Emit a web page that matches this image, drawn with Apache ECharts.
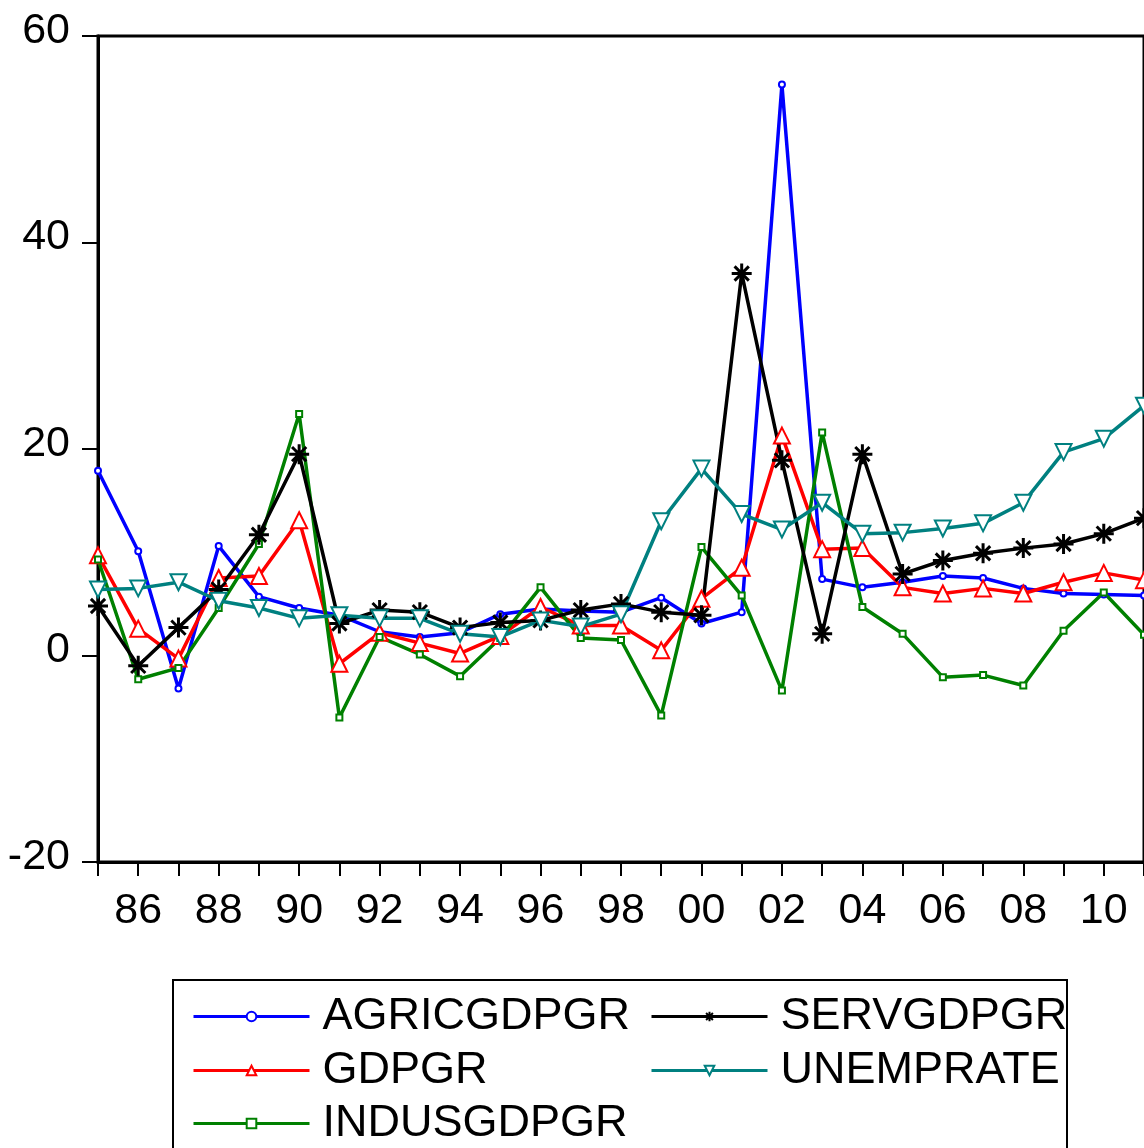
<!DOCTYPE html>
<html>
<head>
<meta charset="utf-8">
<script src="https://cdn.jsdelivr.net/npm/echarts@6/dist/echarts.min.js"></script>
<style>
  html, body { margin: 0; padding: 0; background: #fff; }
  #chart { width: 1144px; height: 1148px; }
</style>
</head>
<body>
<div id="chart"></div>
<script>
// years on the x axis, labelled with their last two digits
const years = ['1985', '1986', '1987', '1988', '1989', '1990', '1991', '1992', '1993', '1994',
  '1995', '1996', '1997', '1998', '1999', '2000', '2001', '2002', '2003', '2004',
  '2005', '2006', '2007', '2008', '2009', '2010', '2011']

const agricGdpGr = [17.9, 10.1, -3.2, 10.6, 5.7, 4.6, 3.9, 2.3, 1.8, 2.2,
  4.0, 4.5, 4.3, 4.2, 5.6, 3.1, 4.2, 55.3, 7.4, 6.6,
  7.1, 7.7, 7.5, 6.5, 6.0, 5.9, 5.8]
const gdpGr = [9.7, 2.6, -0.3, 7.5, 7.7, 13.1, -0.8, 2.2, 1.2, 0.2,
  1.9, 4.7, 2.9, 2.9, 0.5, 5.5, 8.5, 21.3, 10.3, 10.4,
  6.6, 6.0, 6.5, 6.0, 7.1, 8.0, 7.3]
const indusGdpGr = [9.3, -2.3, -1.2, 4.6, 10.8, 23.4, -6.0, 1.8, 0.1, -2.0,
  1.7, 6.6, 1.7, 1.5, -5.8, 10.5, 5.8, -3.4, 21.6, 4.7,
  2.1, -2.1, -1.9, -2.9, 2.4, 6.1, 2.0]
const servGdpGr = [4.8, -1.0, 2.7, 6.4, 11.7, 19.5, 3.1, 4.4, 4.2, 2.7,
  3.2, 3.4, 4.4, 5.0, 4.2, 3.9, 37.0, 18.9, 2.1, 19.5,
  7.9, 9.2, 9.9, 10.4, 10.8, 11.8, 13.3]
const unempRate = [6.4, 6.5, 7.1, 5.3, 4.6, 3.6, 3.9, 3.6, 3.6, 2.1,
  1.8, 3.4, 2.8, 4.0, 13.0, 18.1, 13.7, 12.2, 14.8, 11.8,
  11.9, 12.3, 12.8, 14.8, 19.7, 21.0, 24.2]

const yMin = -20
const yMax = 60
const yStep = 20

const font = '"Liberation Sans", Arial, sans-serif'
const asterisk = 'path://M0,8 L16,8 M8,0 L8,16 M2.3,2.3 L13.7,13.7 M13.7,2.3 L2.3,13.7'

function lineSeries(name, data, color, symbol, size, extra) {
  return Object.assign({
    name,
    type: 'line',
    data,
    symbol,
    symbolSize: size,
    showAllSymbol: true,
    lineStyle: { color, width: 3.5 },
    itemStyle: { color, borderColor: color, borderWidth: 2.5 },
    emphasis: { disabled: true },
  }, extra || {})
}

// one legend per entry so the two columns line up like the original box
function legendItem(name, left, top) {
  return {
    left,
    top,
    padding: 0,
    itemWidth: 116,
    itemHeight: 12,
    data: [name],
    lineStyle: { width: 3 },
    textStyle: { color: '#000', fontSize: 45, lineHeight: 44, fontFamily: font, padding: [0, 0, 0, 8] },
  }
}

const chart = echarts.init(document.getElementById('chart'))

chart.setOption({
  animation: false,
  backgroundColor: '#fff',
  textStyle: { fontFamily: font },
  grid: {
    left: 98,
    top: 36,
    width: 1050,
    bottom: 286,
    show: true,
    borderColor: '#000',
    borderWidth: 3,
  },
  xAxis: {
    type: 'category',
    data: years,
    boundaryGap: false,
    axisLine: { onZero: false, lineStyle: { color: '#000', width: 3 } },
    axisTick: { interval: 0, length: 14, lineStyle: { color: '#000', width: 2 } },
    axisLabel: {
      interval: (i) => i % 2 === 1,
      formatter: (v) => v.slice(2),
      color: '#000',
      fontSize: 43,
      fontFamily: font,
      margin: 28,
    },
    splitLine: { show: false },
  },
  yAxis: {
    type: 'value',
    min: yMin,
    max: yMax,
    interval: yStep,
    axisLine: { show: true, lineStyle: { color: '#000', width: 3 } },
    axisTick: { show: true, length: 16, lineStyle: { color: '#000', width: 2 } },
    axisLabel: {
      color: '#000',
      fontSize: 43,
      fontFamily: font,
      margin: 28,
      verticalAlign: 'bottom',
      lineHeight: 42,
      padding: [0, 0, -16, 0],
    },
    splitLine: { show: false },
  },
  legend: [
    legendItem('AGRICGDPGR', 192, 994),
    legendItem('GDPGR', 192, 1048),
    legendItem('INDUSGDPGR', 192, 1101),
    legendItem('SERVGDPGR', 650, 994),
    legendItem('UNEMPRATE', 650, 1048),
  ],
  graphic: [
    {
      type: 'rect',
      shape: { x: 173, y: 980, width: 894, height: 200 },
      style: { fill: 'none', stroke: '#000', lineWidth: 2 },
      silent: true,
    },
  ],
  series: [
    lineSeries('AGRICGDPGR', agricGdpGr, '#0000ff', 'emptyCircle', 6),
    lineSeries('GDPGR', gdpGr, '#ff0000', 'emptyTriangle', 16),
    lineSeries('INDUSGDPGR', indusGdpGr, '#008000', 'emptyRect', 6),
    lineSeries('SERVGDPGR', servGdpGr, '#000000', asterisk, 20, {
      itemStyle: { color: '#000', borderColor: '#000', borderWidth: 3 },
    }),
    lineSeries('UNEMPRATE', unempRate, '#008080', 'emptyTriangle', 16, { symbolRotate: 180 }),
  ],
})
</script>
</body>
</html>
